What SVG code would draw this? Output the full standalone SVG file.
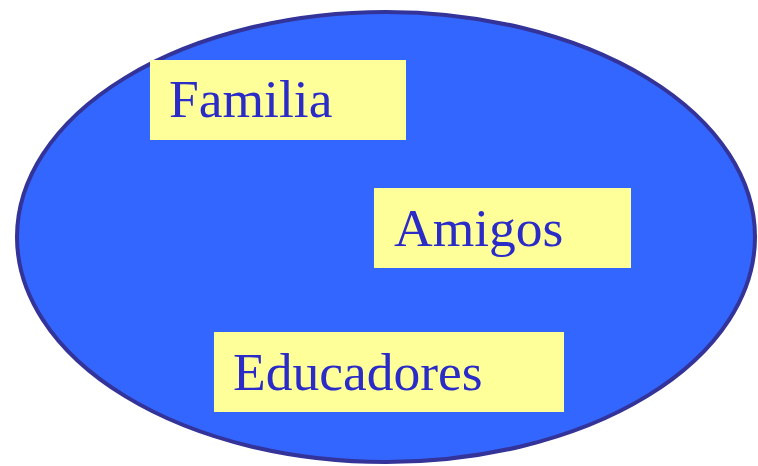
<svg xmlns="http://www.w3.org/2000/svg" width="758" height="466" viewBox="0 0 758 466">
<style>
.box{fill:#FFFF99;}
.lbl{font-family:"Liberation Serif","Times New Roman",serif;font-size:53.5px;fill:#2B2BC8;}
</style>
<rect width="758" height="466" fill="#FFFFFF"/>
<g id="circle">
<ellipse cx="386" cy="237" rx="369" ry="225" fill="#3366FF" stroke="#333399" stroke-width="4"/>
</g>
<g id="familia">
<rect class="box" x="150" y="60" width="256" height="80"/>
<text class="lbl" x="169" y="117">Familia</text>
</g>
<g id="amigos">
<rect class="box" x="374" y="188" width="257" height="80"/>
<text class="lbl" x="394" y="246">Amigos</text>
</g>
<g id="educadores">
<rect class="box" x="214" y="332" width="350" height="80"/>
<text class="lbl" x="233" y="390">Educadores</text>
</g>
<g id="connectors"/>
</svg>
